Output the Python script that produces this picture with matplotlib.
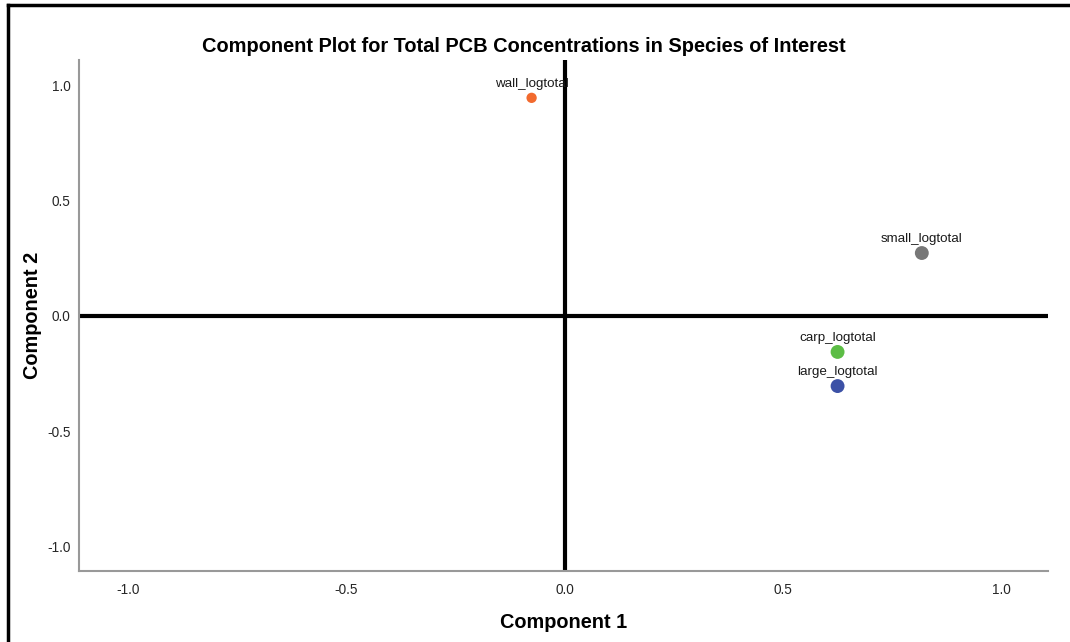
import matplotlib.pyplot as plt
from matplotlib.lines import Line2D

# loadings for the two components
variables = ['wall_logtotal', 'small_logtotal', 'carp_logtotal', 'large_logtotal']
comp1 = [-0.076, 0.818, 0.625, 0.625]
comp2 = [0.946, 0.273, -0.156, -0.304]
colors = ['#f26a2e', '#777777', '#5cbd45', '#3c51a6']
sizes = [55, 100, 100, 100]

ticks = [-1.0, -0.5, 0.0, 0.5, 1.0]

plt.rcParams['font.family'] = ['Liberation Sans', 'DejaVu Sans']

fig = plt.figure(figsize=(10.7, 6.42), dpi=100)
ax = fig.add_axes([0.0738, 0.1106, 0.9056, 0.7959])

ax.axhline(0, color='black', lw=3, zorder=1)
ax.axvline(0, color='black', lw=3, zorder=1)

for x, y, name, c, s in zip(comp1, comp2, variables, colors, sizes):
    ax.scatter(x, y, s=s, color=c, zorder=3, edgecolors='none')
    ax.annotate(name, (x, y), xytext=(0, 6), textcoords='offset points',
                ha='center', va='bottom', fontsize=9.6, color='#1a1a1a', zorder=4)

ax.set_xlim(-1.113, 1.107)
ax.set_ylim(-1.106, 1.11)
ax.set_xticks(ticks)
ax.set_yticks(ticks)
ax.set_xticklabels(['%.1f' % t for t in ticks])
ax.set_yticklabels(['%.1f' % t for t in ticks])
ax.tick_params(length=0, labelsize=9.8, labelcolor='#262626')
ax.tick_params(axis='x', pad=9)
ax.tick_params(axis='y', pad=6)

for side in ['top', 'right']:
    ax.spines[side].set_visible(False)
for side in ['left', 'bottom']:
    ax.spines[side].set_color('#999999')
    ax.spines[side].set_linewidth(1.5)

fig.text(0.49, 0.928, 'Component Plot for Total PCB Concentrations in Species of Interest',
         ha='center', va='center', fontsize=14.4, fontweight='bold')
fig.text(0.527, 0.03, 'Component 1', ha='center', va='center', fontsize=14.3, fontweight='bold')
fig.text(0.03, 0.508, 'Component 2', ha='center', va='center', rotation=90,
         fontsize=14.3, fontweight='bold')

# frame lines on the top and left edges
fig.add_artist(Line2D([0.0079, 1.0], [0.9922, 0.9922], color='black', lw=2.5,
                      transform=fig.transFigure))
fig.add_artist(Line2D([0.0079, 0.0079], [0.0, 0.9922], color='black', lw=2.5,
                      transform=fig.transFigure))

fig.savefig('out.png', dpi=100)
